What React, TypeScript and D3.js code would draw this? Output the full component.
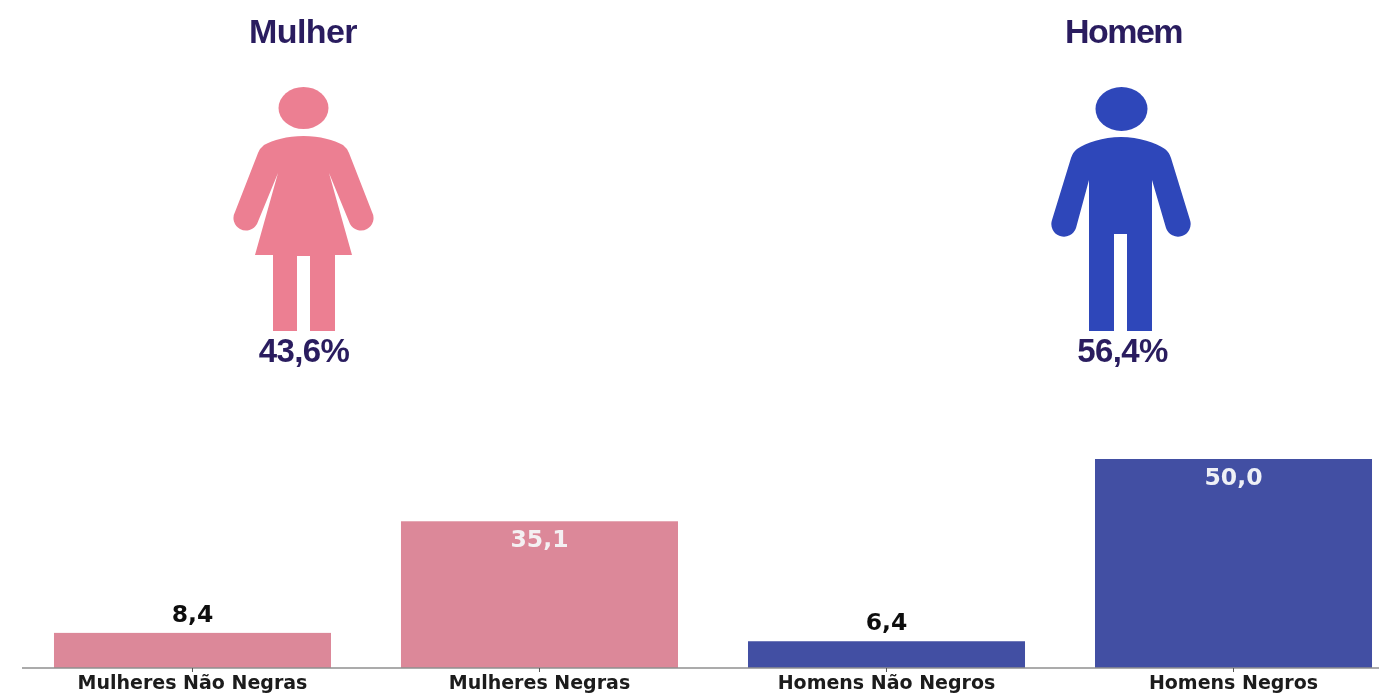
import React from "react";
import * as d3 from "d3";

const categories = ["Mulheres Não Negras", "Mulheres Negras", "Homens Não Negros", "Homens Negros"];
const values = [8.4, 35.1, 6.4, 50.0];
const valueLabels = ["8,4", "35,1", "6,4", "50,0"];
const barColors = ["#DC8899", "#DC8899", "#4350A3", "#4350A3"];
const labelColors = ["#111111", "#F4F0F2", "#111111", "#EEF0F6"];
const figureTitles = ["Mulher", "Homem"];
const figureShares = ["43,6%", "56,4%"];

const W = 1379;
const H = 694;
const BASE = 668;
const x = d3.scaleBand<string>().domain(categories).range([-16, 1442]).padding(0.2017);
const y = d3.scaleLinear().domain([0, 50]).range([BASE, 459]);

const womanPath =
  "M303.5 136 C287 136 273 140 264 145 Q260 148 258 153 L235 212 A12 12 0 0 0 257 224 L278 173 L255 255 L273 255 L273 331 L297 331 L297 256 L310 256 L310 331 L335 331 L335 255 L352 255 L329 173 L350 224 A12 12 0 0 0 372 212 L349 153 Q347 148 343 145 C334 140 320 136 303.5 136 Z";
const manPath =
  "M1121 137 C1103 137 1086 143 1077 149 Q1073 152 1071 158 L1052 220 A12.5 12.5 0 0 0 1076 228 L1089 180 L1089 331 L1114 331 L1114 234 L1127 234 L1127 331 L1152 331 L1152 180 L1166 228 A12.5 12.5 0 0 0 1190 220 L1171 158 Q1169 152 1165 149 C1156 143 1139 137 1121 137 Z";

const navy = "#2A1F5F";
const sans = "'Liberation Sans', Arial, sans-serif";
const deja = "'DejaVu Sans', sans-serif";

export default function App() {
  const bw = x.bandwidth();
  const cx = (c: string) => (x(c) as number) + bw / 2;
  return (
    <svg
      width={W}
      height={H}
      viewBox={`0 0 ${W} ${H}`}
      style={{ position: "absolute", left: 0, top: 0, background: "#fff" }}
    >
      <defs>
        <filter id="soft" x="-5%" y="-5%" width="110%" height="110%">
          <feGaussianBlur stdDeviation="0.6" />
        </filter>
      </defs>
      <g filter="url(#soft)">
        <text x={303} y={43} textAnchor="middle" fontFamily={sans} fontWeight={700} fontSize={34} letterSpacing={-0.6} fill={navy}>
          {figureTitles[0]}
        </text>
        <text x={1123.5} y={43} textAnchor="middle" fontFamily={sans} fontWeight={700} fontSize={34} letterSpacing={-1.5} fill={navy}>
          {figureTitles[1]}
        </text>
        <ellipse cx={303.5} cy={108} rx={25} ry={21} fill="#EC7F92" />
        <path d={womanPath} fill="#EC7F92" />
        <ellipse cx={1121.5} cy={109} rx={26} ry={22} fill="#2E46BA" />
        <path d={manPath} fill="#2E46BA" />
        <text x={304} y={362} textAnchor="middle" fontFamily={sans} fontWeight={700} fontSize={33} letterSpacing={-0.6} fill={navy}>
          {figureShares[0]}
        </text>
        <text x={1122.5} y={362} textAnchor="middle" fontFamily={sans} fontWeight={700} fontSize={33} letterSpacing={-0.6} fill={navy}>
          {figureShares[1]}
        </text>

        {values.map((v, i) => (
          <rect key={categories[i]} x={x(categories[i])} y={y(v)} width={bw} height={BASE - y(v)} fill={barColors[i]} />
        ))}
        <line x1={22} x2={1379} y1={BASE} y2={BASE} stroke="#8f8f8f" strokeWidth={1.5} />
        {categories.map((c) => (
          <g key={c}>
            <line x1={cx(c)} x2={cx(c)} y1={BASE} y2={BASE + 4} stroke="#555" strokeWidth={1} />
            <text x={cx(c)} y={689} textAnchor="middle" fontFamily={deja} fontWeight={700} fontSize={19} fill="#1a1a1a">
              {c}
            </text>
          </g>
        ))}
        {values.map((v, i) => {
          const inside = v > 20;
          return (
            <text
              key={valueLabels[i]}
              x={cx(categories[i])}
              y={inside ? y(v) + 26 : y(v) - 11}
              textAnchor="middle"
              fontFamily={deja}
              fontWeight={700}
              fontSize={23.5}
              fill={labelColors[i]}
            >
              {valueLabels[i]}
            </text>
          );
        })}
      </g>
    </svg>
  );
}
